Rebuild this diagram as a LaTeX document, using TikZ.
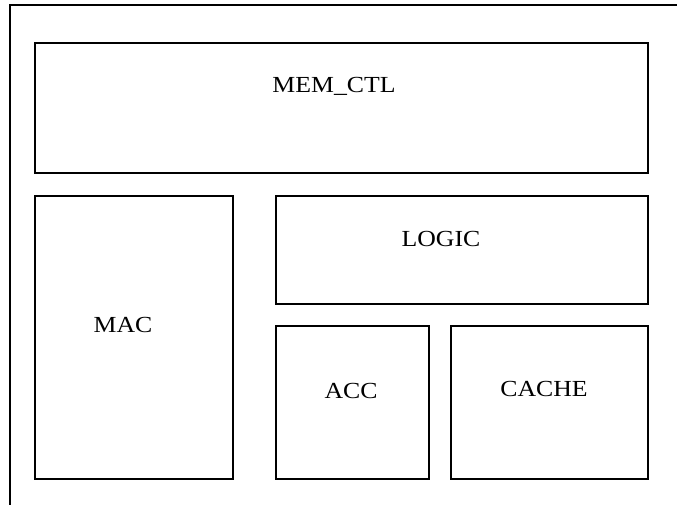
\documentclass[tikz,border=0pt]{standalone}
\usepackage{fontspec}
\setmainfont{Liberation Serif}[FakeStretch=1.12]
\usetikzlibrary{positioning}

\begin{document}
\begin{tikzpicture}[x=1pt, y=-1pt,
    blk/.style={draw, line width=1.8pt, anchor=north west, inner sep=0pt},
    lbl/.style={font=\fontsize{23}{27}\selectfont, inner sep=0pt, anchor=base}]
		\useasboundingbox (0,0) rectangle (677,505);

		% outer frame, cut off at right and bottom
		\coordinate (fb) at (10,505);
		\coordinate (fc) at (10,5);
		\coordinate (fr) at (677,5);
		\draw [line width=1.8pt] (fb) -- (fc) -- (fr);

		\node [blk, minimum width=613pt, minimum height=130pt] (memctl) at (34,42) {};
		\node [blk, minimum width=198pt, minimum height=283pt] (mac) at (34,195) {};
		\node [blk, minimum width=372pt, minimum height=108pt] (logic) at (275,195) {};
		\node [blk, minimum width=153pt, minimum height=153pt] (acc) at (275,325) {};
		\node [blk, minimum width=197pt, minimum height=153pt] (cache) at (450,325) {};

		\node [lbl] (memctlT) at (334,93) {MEM\_CTL};
		\node [lbl] (macT) at (123,332) {MAC};
		\node [lbl] (logicT) at (441,246) {LOGIC};
		\node [lbl] (accT) at (351,398) {ACC};
		\node [lbl] (cacheT) at (544,396) {CACHE};
	\end{tikzpicture}
\end{document}
